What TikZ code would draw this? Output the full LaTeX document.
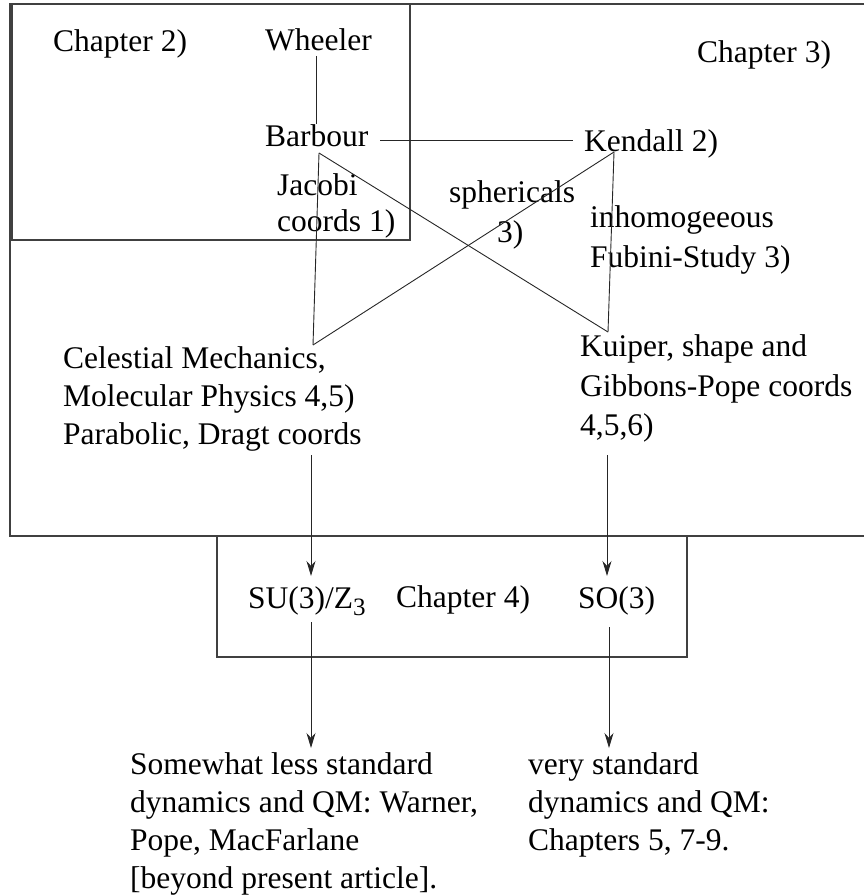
\documentclass[tikz,border=0pt]{standalone}
\usepackage{fontspec}
\setmainfont{Liberation Serif}
\usetikzlibrary{arrows.meta}
\begin{document}
\begin{tikzpicture}[x=1pt,y=-1pt,
  txt/.style={anchor=base west,inner sep=0pt,font=\fontsize{31.5}{38}\selectfont},
  box/.style={draw=black!75,line width=1.1pt},
  link/.style={draw=black!85,line width=0.9pt},
  arr/.style={link,-{Stealth[length=15pt,width=9pt]}}]
\useasboundingbox (0,0) rectangle (864,896);
% boxes
\draw[box] (864,4) -- (10,4) -- (10,536) -- (864,536);
\draw[box] (12,4) rectangle (410,240);
\draw[box] (217,536) rectangle (687,657);
% texts
\node[txt] (ch2) at (53,52) {Chapter 2)};
\node[txt] (wheeler) at (265,51) {Wheeler};
\node[txt] (ch3) at (697,63) {Chapter 3)};
\node[txt] (barbour) at (265,147) {Barbour};
\node[txt] (kendall) at (584,152) {Kendall 2)};
\node[txt] (jac1) at (277,196) {Jacobi};
\node[txt] (jac2) at (277,231) {coords 1)};
\node[txt] (sph1) at (449,203) {sphericals};
\node[txt] (sph2) at (497,242) {3)};
\node[txt] (inh1) at (590,227) {inhomogeeous};
\node[txt] (inh2) at (590,267) {Fubini-Study 3)};
\node[txt] (cel1) at (63,368) {Celestial Mechanics,};
\node[txt] (cel2) at (63,406) {Molecular Physics 4,5)};
\node[txt] (cel3) at (63,444) {Parabolic, Dragt coords};
\node[txt] (kui1) at (580,356) {Kuiper, shape and};
\node[txt] (kui2) at (580,396) {Gibbons-Pope coords};
\node[txt] (kui3) at (580,435) {4,5,6)};
\node[txt] (su) at (248,608) {SU(3)/Z\raisebox{-7pt}{\fontsize{25}{25}\selectfont 3}};
\node[txt] (ch4) at (396,607) {Chapter 4)};
\node[txt] (so) at (578,608) {SO(3)};
\node[txt] (sl1) at (130,774) {Somewhat less standard};
\node[txt] (sl2) at (130,812) {dynamics and QM: Warner,};
\node[txt] (sl3) at (130,850) {Pope, MacFarlane};
\node[txt] (sl4) at (130,888) {[beyond present article].};
\node[txt] (vs1) at (528,774) {very standard};
\node[txt] (vs2) at (528,812) {dynamics and QM:};
\node[txt] (vs3) at (528,850) {Chapters 5, 7-9.};
% connector end points
\coordinate (whS) at (316,56);
\coordinate (baN) at (316,124);
\coordinate (baE) at (380,140);
\coordinate (keW) at (573,140);
\coordinate (baS) at (319,153);
\coordinate (keS) at (614,152);
\coordinate (ceN) at (313,345);
\coordinate (kuN) at (608,332);
\coordinate (ceS) at (311,455);
\coordinate (kuS) at (607,455);
\coordinate (suN) at (311,576);
\coordinate (soN) at (607,576);
\coordinate (suS) at (311,622);
\coordinate (soS) at (609,627);
\coordinate (slN) at (311,748);
\coordinate (vsN) at (609,748);
% connectors
\draw[link] (whS) -- (baN);
\draw[link] (baE) -- (keW);
\draw[link] (baS) -- (ceN);
\draw[link] (baS) -- (kuN);
\draw[link] (keS) -- (ceN);
\draw[link] (keS) -- (kuN);
\draw[arr] (ceS) -- (suN);
\draw[arr] (kuS) -- (soN);
\draw[arr] (suS) -- (slN);
\draw[arr] (soS) -- (vsN);
\end{tikzpicture}
\end{document}
